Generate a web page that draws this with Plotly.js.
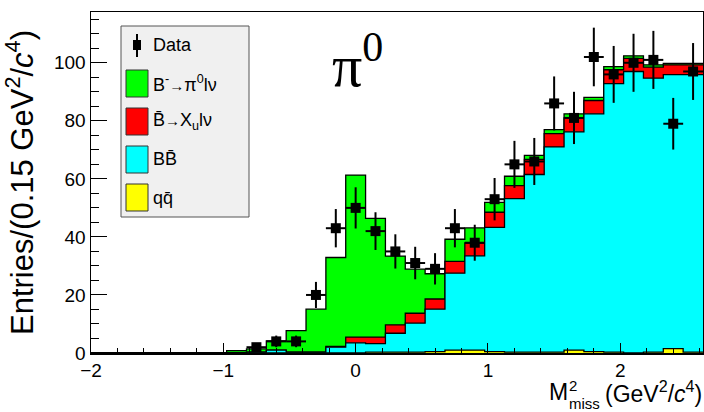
<!DOCTYPE html>
<html>
<head>
<meta charset="utf-8">
<script src="https://cdn.plot.ly/plotly-3.0.1.min.js"></script>
<style>html,body{margin:0;padding:0;background:#fff;}#chart{width:704px;height:412px;}</style>
</head>
<body>
<div id="chart"></div>
<script>
// Bin centres (bin width 0.15 GeV^2/c^4)
const binCenters = [-1.95,-1.8,-1.65,-1.5,-1.35,-1.2,-1.05,-0.9,-0.75,-0.6,-0.45,-0.3,-0.15,0,0.15,0.3,0.45,0.6,0.75,0.9,1.05,1.2,1.35,1.5,1.65,1.8,1.95,2.1,2.25,2.4,2.55];
// Component histograms (stacked from bottom): q qbar, B Bbar, Bbar->Xu l nu, B- -> pi0 l nu
const qqbar   = [0,0,0,0,0,0,0, 0,0,0,0,0,0,0, 0.3,0.3,0.3,0.5,1.0,1.0,0.5,0.3,0.3,0.3,1.0,0.5,0.3,0,0.3,1.5,0.3];
const bbbar   = [0,0,0,0,0,0,0, 0,0.3,1.0,0.3,0.3,2.0,3.5, 2.9,6.5,10.0,14.6,26.5,32.5,42.8,52.9,61.2,70.7,75.2,81.9,92.5,97.0,94.4,94.4,95.6];
const xulnu   = [0,0,0,0,0,0,0, 0,0,0,0,0,0.3,2.0, 2.3,2.9,3.4,3.5,4.1,4.4,5.2,4.5,5.2,4.6,4.8,4.6,4.8,4.5,3.8,3.4,3.4];
const pi0lnu  = [0,0,0,0,0,0,0, 0.8,1.1,3.2,7.4,14.8,30.6,55.8, 40.9,23.7,15.2,8.7,7.6,5.2,3.4,3.2,1.4,1.4,1.4,1.1,1.1,0.9,0.8,0.5,0.5];
// Data points
const dataX   = [-0.75,-0.6,-0.45,-0.3,-0.15,0,0.15,0.3,0.45,0.6,0.75,0.9,1.05,1.2,1.35,1.5,1.65,1.8,1.95,2.1,2.25,2.4,2.55];
const dataY   = [2,4,4,20,43,50,42,35,31,29,43,38,53,65,66,86,81,102,96,100,101,79,97];
const dataErr = [1.4,2,2,4.5,6.6,7.1,6.5,5.9,5.6,5.4,6.6,6.2,7.3,8.1,8.1,9.3,9,10.1,9.8,10,10,8.9,9.8];
const binHalf = 0.075;

function cum(arrs){ return binCenters.map((_,i)=>arrs.reduce((s,a)=>s+a[i],0)); }
function stepTrace(vals, color){
  const xs = binCenters.map(c=>c-binHalf); xs.push(binCenters[binCenters.length-1]+binHalf);
  const ys = vals.slice(); ys.push(vals[vals.length-1]);
  return {x:xs, y:ys, type:'scatter', mode:'lines', line:{shape:'hv', color:'#000', width:1.3},
          fill:'tozeroy', fillcolor:color, hoverinfo:'skip', showlegend:false};
}
const GREEN='#00ff00', RED='#ff0000', CYAN='#00ffff', YELLOW='#ffff00';
const traces = [
  stepTrace(cum([qqbar,bbbar,xulnu,pi0lnu]), GREEN),
  stepTrace(cum([qqbar,bbbar,xulnu]), RED),
  stepTrace(cum([qqbar,bbbar]), CYAN),
  stepTrace(cum([qqbar]), YELLOW),
  {x:dataX, y:dataY, type:'scatter', mode:'markers', showlegend:false,
   marker:{symbol:'square', size:10, color:'#000'},
   error_y:{type:'data', array:dataErr, visible:true, color:'#000', thickness:2, width:0},
   error_x:{type:'data', array:dataX.map(()=>binHalf), visible:true, color:'#000', thickness:2, width:0}}
];

// pixel -> paper helpers for decorations
const L=91, R=703, T=12, B=353;
const px = x => (x-L)/(R-L);
const py = y => (B-y)/(B-T);
const SANS = 'Liberation Sans, Arial, Helvetica, sans-serif';
const ARROW = '<span style="font-size:15px">→</span>';

const legendRows = [
  {y:83.5, color:GREEN,  text:'B<sup>-</sup>'+ARROW+'π<sup>0</sup>lν'},
  {y:121.5, color:RED,   text:'B\u0304'+ARROW+'X<sub>u</sub>lν'},
  {y:159.5, color:CYAN,  text:'BB\u0304'},
  {y:197.5, color:YELLOW,text:'qq\u0304'}
];
const shapes = [
  {type:'rect', xref:'paper', yref:'paper', x0:px(121), x1:px(249), y0:py(217), y1:py(26),
   fillcolor:'#f0f0f0', line:{color:'#555', width:1}, layer:'above'},
  {type:'line', xref:'paper', yref:'paper', x0:px(137), x1:px(137), y0:py(57), y1:py(34),
   line:{color:'#000', width:2}, layer:'above'},
  {type:'rect', xref:'paper', yref:'paper', x0:px(133), x1:px(141), y0:py(50), y1:py(40),
   fillcolor:'#000', line:{color:'#000', width:0}, layer:'above'}
];
const annotations = [
  {xref:'paper', yref:'paper', x:px(151), y:py(45), xanchor:'left', yanchor:'middle', showarrow:false,
   text:'Data', font:{family:SANS, size:18, color:'#000'}}
];
legendRows.forEach(r=>{
  shapes.push({type:'rect', xref:'paper', yref:'paper', x0:px(126), x1:px(148), y0:py(r.y+13.5), y1:py(r.y-13.5),
    fillcolor:r.color, line:{color:'#333', width:1}, layer:'above'});
  annotations.push({xref:'paper', yref:'paper', x:px(151), y:py(r.y), xanchor:'left', yanchor:'middle', showarrow:false,
    text:r.text, font:{family:SANS, size:18, color:'#000'}});
});
// pi0 label
annotations.push({xref:'paper', yref:'paper', x:px(330), y:py(62), xanchor:'left', yanchor:'middle', showarrow:false,
  text:'π<sup>0</sup>', font:{family:'Liberation Serif, Times New Roman, serif', size:60, color:'#000'}});
// x-axis title pieces
annotations.push({xref:'paper', yref:'paper', x:px(547), y:py(392), xanchor:'left', yanchor:'middle', showarrow:false,
  text:'M', font:{family:SANS, size:23, color:'#000'}});
annotations.push({xref:'paper', yref:'paper', x:px(567), y:py(385), xanchor:'left', yanchor:'middle', showarrow:false,
  text:'2', font:{family:SANS, size:15, color:'#000'}});
annotations.push({xref:'paper', yref:'paper', x:px(567), y:py(403), xanchor:'left', yanchor:'middle', showarrow:false,
  text:'miss', font:{family:SANS, size:15, color:'#000'}});
annotations.push({xref:'paper', yref:'paper', x:px(603), y:py(392), xanchor:'left', yanchor:'middle', showarrow:false,
  text:'(GeV<sup>2</sup>/<i>c</i><sup>4</sup>)', font:{family:SANS, size:23, color:'#000'}});

const layout = {
  width:704, height:412,
  margin:{l:L, r:704-R, t:T, b:412-B},
  paper_bgcolor:'#fff', plot_bgcolor:'#fff',
  showlegend:false,
  xaxis:{range:[-2,2.625], tick0:0, dtick:1, ticks:'inside', ticklen:10, tickwidth:1, tickcolor:'#000',
    minor:{dtick:0.2, tick0:0, ticks:'inside', ticklen:5, tickwidth:1, tickcolor:'#000'},
    showline:true, linecolor:'#000', linewidth:1.5, mirror:true, showgrid:false, zeroline:false,
    tickfont:{family:SANS, size:19, color:'#000'}},
  yaxis:{range:[0,117.5], tick0:0, dtick:20, ticks:'inside', ticklen:16, tickwidth:1, tickcolor:'#000',
    minor:{dtick:5, tick0:0, ticks:'inside', ticklen:8, tickwidth:1, tickcolor:'#000'},
    showline:true, linecolor:'#000', linewidth:1.5, mirror:true, showgrid:false, zeroline:false,
    tickfont:{family:SANS, size:19, color:'#000'},
    title:{text:'Entries/(0.15 GeV<sup>2</sup>/<i>c</i><sup>4</sup>)', standoff:16,
      font:{family:SANS, size:31, color:'#000'}}},
  shapes:shapes, annotations:annotations
};
Plotly.newPlot('chart', traces, layout, {displayModeBar:false, staticPlot:true});
</script>
</body>
</html>
